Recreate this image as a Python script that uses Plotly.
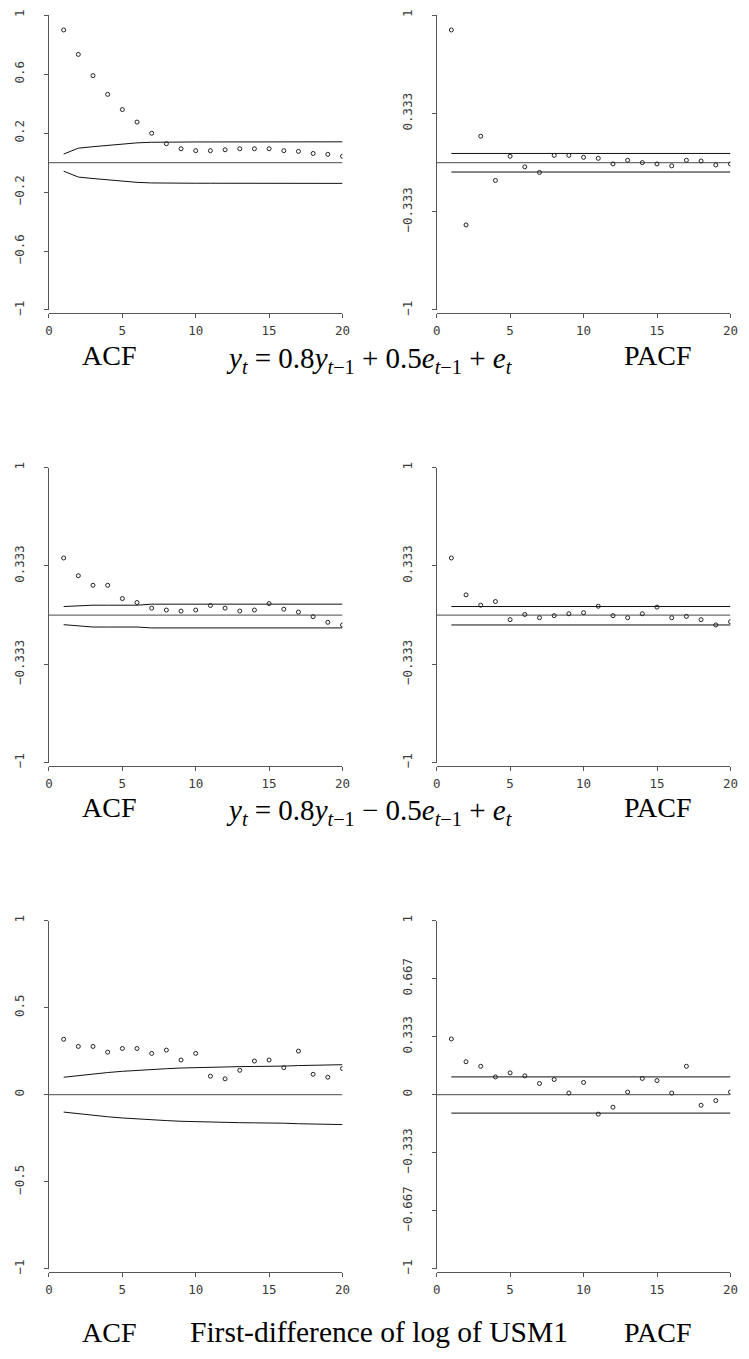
import plotly.graph_objects as go

W, H = 749, 1359
lags = list(range(1, 21))
zero_x = [0, 20]
zero_y = [0, 0]

# Panel 1: ACF, y_t = 0.8 y_{t-1} + 0.5 e_{t-1} + e_t
acf1 = [0.90, 0.734, 0.59, 0.463, 0.36, 0.275, 0.199, 0.128, 0.094, 0.081,
        0.081, 0.087, 0.094, 0.094, 0.094, 0.081, 0.076, 0.062, 0.056, 0.043]
acf1_up = [0.058, 0.098, 0.108, 0.117, 0.126, 0.134, 0.138, 0.140, 0.140, 0.140,
           0.140, 0.140, 0.140, 0.140, 0.140, 0.140, 0.141, 0.141, 0.141, 0.141]
acf1_lo = [-v for v in acf1_up]
# Panel 2: PACF
pacf1 = [0.90, -0.423, 0.179, -0.121, 0.043, -0.029, -0.067, 0.049, 0.049, 0.036,
         0.029, -0.009, 0.016, 0.0, -0.009, -0.022, 0.016, 0.011, -0.016, -0.009]
pacf1_up = [0.062] * 20
pacf1_lo = [-0.064] * 20
# Panel 3: ACF, y_t = 0.8 y_{t-1} - 0.5 e_{t-1} + e_t
acf2 = [0.387, 0.267, 0.202, 0.202, 0.112, 0.085, 0.047, 0.034, 0.027, 0.034,
        0.065, 0.047, 0.027, 0.034, 0.078, 0.040, 0.020, -0.011, -0.049, -0.067]
acf2_up = [0.058, 0.063, 0.067, 0.067, 0.067, 0.067, 0.074, 0.074, 0.074, 0.074,
           0.074, 0.074, 0.074, 0.074, 0.074, 0.074, 0.074, 0.074, 0.074, 0.074]
acf2_lo = [-0.065, -0.074, -0.081, -0.081, -0.081, -0.081, -0.087, -0.087, -0.087, -0.087,
           -0.087, -0.087, -0.087, -0.087, -0.087, -0.087, -0.087, -0.087, -0.087, -0.087]
# Panel 4: PACF
pacf2 = [0.387, 0.137, 0.067, 0.092, -0.031, 0.004, -0.018, -0.004, 0.009, 0.016,
         0.060, -0.004, -0.018, 0.009, 0.054, -0.018, -0.009, -0.031, -0.067, -0.045]
pacf2_up = [0.058] * 20
pacf2_lo = [-0.067] * 20
# Panel 5: ACF, first difference of log of USM1
acf3 = [0.318, 0.277, 0.277, 0.244, 0.265, 0.265, 0.237, 0.256, 0.199, 0.237,
        0.106, 0.091, 0.140, 0.193, 0.199, 0.155, 0.250, 0.117, 0.100, 0.150]
acf3_up = [0.100, 0.110, 0.120, 0.127, 0.134, 0.140, 0.145, 0.149, 0.153, 0.156,
           0.159, 0.160, 0.161, 0.162, 0.162, 0.164, 0.167, 0.169, 0.171, 0.172]
acf3_lo = [-v for v in acf3_up]
# Panel 6: PACF
pacf3 = [0.320, 0.189, 0.163, 0.102, 0.125, 0.108, 0.064, 0.087, 0.009, 0.070,
         -0.112, -0.072, 0.015, 0.093, 0.081, 0.009, 0.163, -0.061, -0.034, 0.015]
pacf3_up = [0.102] * 20
pacf3_lo = [-0.106] * 20

x_ticks = [0, 5, 10, 15, 20]
yt_top_left = [-1, -0.6, -0.2, 0.2, 0.6, 1]
yt_top_left_txt = ["\u22121", "\u22120.6", "\u22120.2", "0.2", "0.6", "1"]
yt_third = [-1, -1/3, 1/3, 1]
yt_third_txt = ["\u22121", "\u22120.333", "0.333", "1"]
yt_half = [-1, -0.5, 0, 0.5, 1]
yt_half_txt = ["\u22121", "\u22120.5", "0", "0.5", "1"]
yt_sixth = [-1, -2/3, -1/3, 0, 1/3, 2/3, 1]
yt_sixth_txt = ["\u22121", "\u22120.667", "\u22120.333", "0", "0.333", "0.667", "1"]

titles = [
    ("ACF", "<i>y</i><sub><i>t</i></sub> = 0.8<i>y</i><sub><i>t</i>\u22121</sub> + 0.5<i>e</i><sub><i>t</i>\u22121</sub> + <i>e</i><sub><i>t</i></sub>", "PACF"),
    ("ACF", "<i>y</i><sub><i>t</i></sub> = 0.8<i>y</i><sub><i>t</i>\u22121</sub> \u2212 0.5<i>e</i><sub><i>t</i>\u22121</sub> + <i>e</i><sub><i>t</i></sub>", "PACF"),
    ("ACF", "First-difference of log of USM1", "PACF"),
]
title_sizes = [(28, 29, 28), (28, 29, 28), (28, 29.5, 28)]

panels = [
    (acf1, acf1_up, acf1_lo, yt_top_left, yt_top_left_txt),
    (pacf1, pacf1_up, pacf1_lo, yt_third, yt_third_txt),
    (acf2, acf2_up, acf2_lo, yt_third, yt_third_txt),
    (pacf2, pacf2_up, pacf2_lo, yt_third, yt_third_txt),
    (acf3, acf3_up, acf3_lo, yt_half, yt_half_txt),
    (pacf3, pacf3_up, pacf3_lo, yt_sixth, yt_sixth_txt),
]

# pixel layout
col_px = [(45.7, 344.0), (439.7, 738.3)]
row_px = [(9.3, 306.7, 310.0), (465.7, 763.3, 766.5), (922.7, 1274.0, 1277.3)]
title_y_px = [[353, 357, 353], [809, 813, 809], [1338, 1338, 1338]]
title_x_px = [[106.5, 371, 664], [106.5, 371, 664], [106.5, 381.5, 664]]

def px_x(p):
    return p / W

def px_y(p):
    return 1 - p / H

tick_font = dict(family="DejaVu Sans Mono", size=12.5, color="#3a3a3a")
axis_col = "#555555"

fig = go.Figure()
layout = {}
for i, (vals, up, lo, ytv, ytt) in enumerate(panels):
    r, c = divmod(i, 2)
    n = i + 1
    xs = "" if n == 1 else str(n)
    xa, ya = "x" + xs, "y" + xs
    fig.add_trace(go.Scatter(x=zero_x, y=zero_y, mode="lines", xaxis=xa, yaxis=ya,
                             line=dict(color="#6e6e6e", width=1.4), showlegend=False, hoverinfo="skip"))
    fig.add_trace(go.Scatter(x=lags, y=up, mode="lines", xaxis=xa, yaxis=ya,
                             line=dict(color="#111111", width=1), showlegend=False))
    fig.add_trace(go.Scatter(x=lags, y=lo, mode="lines", xaxis=xa, yaxis=ya,
                             line=dict(color="#111111", width=1), showlegend=False))
    fig.add_trace(go.Scatter(x=lags, y=vals, mode="markers", xaxis=xa, yaxis=ya,
                             marker=dict(symbol="circle-open", size=4, color="#222222",
                                         line=dict(width=1)), showlegend=False))
    top, bot, axis_line = row_px[r]
    left, right = col_px[c]
    layout["xaxis" + xs] = dict(
        domain=[px_x(left), px_x(right)], range=[0, 20], anchor="free",
        position=px_y(axis_line), showline=True, linecolor=axis_col, linewidth=1,
        ticks="outside", ticklen=4, tickcolor=axis_col, tickvals=x_ticks,
        tickfont=tick_font, showgrid=False, zeroline=False, ticklabelstandoff=2)
    layout["yaxis" + xs] = dict(
        domain=[px_y(bot), px_y(top)], range=[-1, 1], anchor="x" + xs,
        showline=True, linecolor=axis_col, linewidth=1, ticks="outside", ticklen=4,
        tickcolor=axis_col, tickvals=ytv, ticktext=ytt, tickangle=-90,
        tickfont=tick_font, showgrid=False, zeroline=False, ticklabelstandoff=15)

annotations = []
for r, trip in enumerate(titles):
    for xp, yp, txt, sz in zip(title_x_px[r], title_y_px[r], trip, title_sizes[r]):
        annotations.append(dict(x=px_x(xp), y=px_y(yp), xref="paper", yref="paper",
                                text=txt, showarrow=False, xanchor="center", yanchor="middle",
                                font=dict(family="Liberation Serif", size=sz, color="#000000")))

fig.update_layout(width=W, height=H, margin=dict(l=0, r=0, t=0, b=0),
                  paper_bgcolor="white", plot_bgcolor="white",
                  annotations=annotations, **layout)
fig.write_html("out.html")
